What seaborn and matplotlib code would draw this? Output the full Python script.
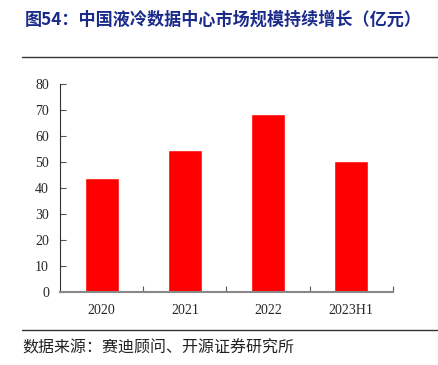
import pandas as pd
import seaborn as sns
import matplotlib.pyplot as plt
from matplotlib.lines import Line2D

# Data
years = ['2020', '2021', '2022', '2023H1']
market_size = [43.8, 54.7, 68.5, 50.2]

df = pd.DataFrame({'year': years, 'size': market_size})

sns.set_style("white")
plt.rcParams['font.family'] = ['Liberation Serif', 'Noto Sans CJK SC']

fig = plt.figure(figsize=(4.38, 3.65), dpi=100)
ax = fig.add_axes([0.137, 0.2, 0.76, 0.57])

sns.barplot(data=df, x='year', y='size', color='#FF0000', saturation=1,
            width=0.41, ax=ax)

ax.set_ylim(0, 80)
ax.set_yticks(range(0, 81, 10))
ax.set_xlim(-0.5, 3.5)
ax.set_xlabel('')
ax.set_ylabel('')

for s in ['top', 'right']:
    ax.spines[s].set_visible(False)
ax.spines['left'].set_color('#333333')
ax.spines['left'].set_linewidth(0.8)
ax.spines['bottom'].set_color('#888888')
ax.spines['bottom'].set_linewidth(1.5)

ax.tick_params(axis='y', direction='in', length=4, width=0.8, color='#555555',
               labelsize=10, pad=8, left=True)
ax.tick_params(axis='x', length=0, labelsize=10, pad=9)
# minor ticks between categories on the x axis
ax.set_xticks([0.5, 1.5, 2.5, 3.5], minor=True)
ax.tick_params(axis='x', which='minor', direction='in', length=4, width=0.8,
               color='#555555', bottom=True)

# Title and source
fig.text(0.057, 0.945, '图54：中国液冷数据中心市场规模持续增长（亿元）',
         fontsize=12.3, fontweight='bold', color='#1B2B8B',
         family=['Noto Sans CJK SC'], va='center')
fig.add_artist(Line2D([0.05, 1.0], [0.843, 0.843], color='#333333', lw=1))
fig.add_artist(Line2D([0.05, 1.0], [0.096, 0.096], color='#333333', lw=1))
fig.text(0.05, 0.047, '数据来源：赛迪顾问、开源证券研究所', fontsize=11.5,
         color='#222222', family=['Noto Sans CJK SC'], va='center')

fig.savefig('out.png', dpi=100)
